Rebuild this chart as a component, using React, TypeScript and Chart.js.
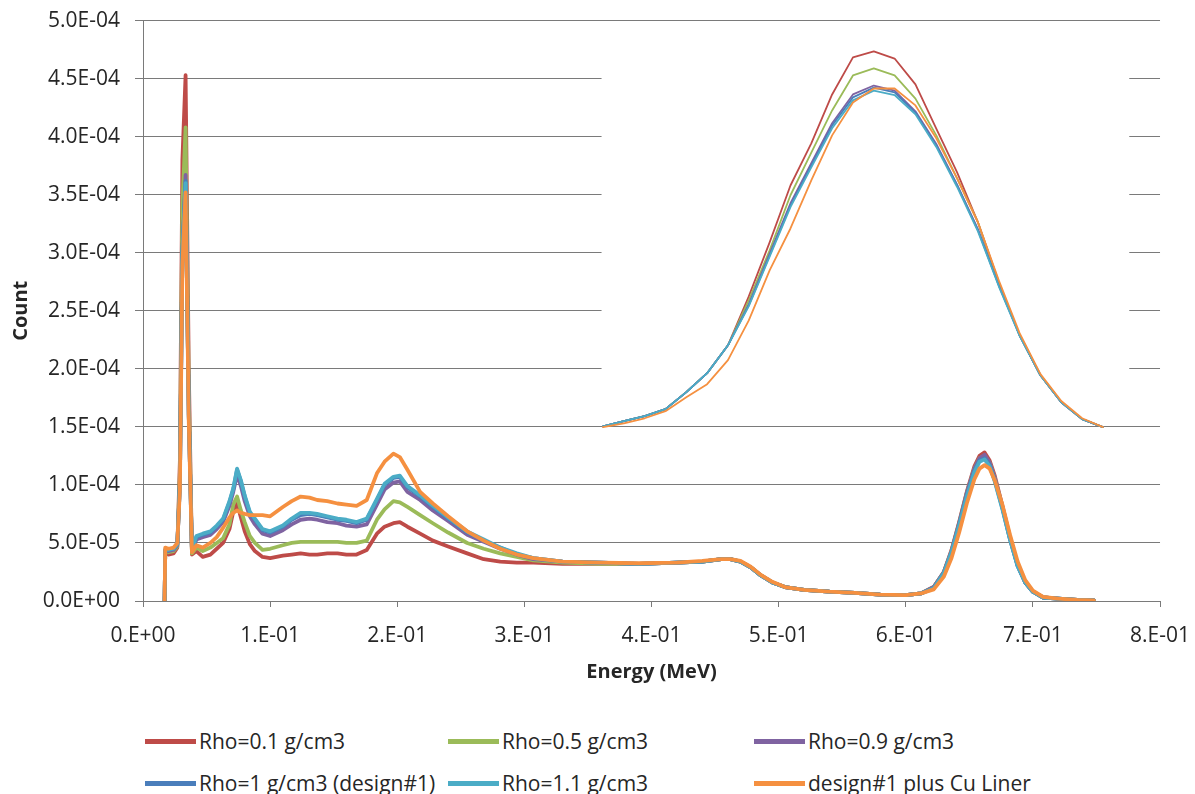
import { useEffect, useRef } from 'react';
import { Chart, registerables } from 'chart.js';

Chart.register(...registerables);

// ---------- data (counts expressed in units of 1e-5) ----------
const UNIT = 1e-5;

const seriesNames = [
  'Rho=0.1 g/cm3',
  'Rho=0.5 g/cm3',
  'Rho=0.9 g/cm3',
  'Rho=1 g/cm3 (design#1)',
  'Rho=1.1 g/cm3',
  'design#1 plus Cu Liner',
];
const seriesColors = ['#BE4B48', '#9BBB59', '#7F63A1', '#4A7EBB', '#4BACC6', '#F59040'];

const energy = [
  0.017, 0.0175, 0.020, 0.024, 0.027, 0.029, 0.031, 0.0335, 0.036, 0.0385,
  0.042, 0.047, 0.053, 0.058, 0.063, 0.068, 0.071, 0.074, 0.077, 0.080,
  0.084, 0.088, 0.094, 0.100, 0.110, 0.117, 0.124, 0.131, 0.137, 0.145,
  0.153, 0.160, 0.168, 0.176, 0.184, 0.190, 0.197, 0.202, 0.208, 0.218,
  0.228, 0.240, 0.255, 0.268, 0.281, 0.294, 0.307, 0.330, 0.360, 0.390,
  0.420, 0.440, 0.455, 0.462, 0.470, 0.478, 0.486, 0.495, 0.505, 0.520,
  0.540, 0.560, 0.580, 0.600, 0.612, 0.622, 0.630, 0.636, 0.642, 0.648,
  0.654, 0.658, 0.662, 0.666, 0.670, 0.676, 0.682, 0.688, 0.694, 0.700,
  0.708, 0.720, 0.735, 0.748,
];

const rho01 = [
  0, 4.2, 4.0, 4.1, 4.6, 12, 38, 45.3, 20, 4.0,
  4.3, 3.8, 4.0, 4.5, 5.0, 6.2, 7.7, 8.4, 7.2, 6.0,
  4.9, 4.3, 3.8, 3.7, 3.9, 4.0, 4.1, 4.0, 4.0, 4.1,
  4.1, 4.0, 4.0, 4.4, 5.8, 6.4, 6.7, 6.8, 6.4, 5.8,
  5.2, 4.7, 4.1, 3.6, 3.4, 3.3, 3.3, 3.2, 3.2, 3.2,
  3.3, 3.4, 3.6, 3.6, 3.4, 2.9, 2.2, 1.6, 1.2, 0.95,
  0.8, 0.7, 0.55, 0.5, 0.65, 1.2, 2.5, 4.4, 6.8, 9.4,
  11.6, 12.5, 12.8, 12.1, 10.8, 8.2, 5.5, 3.1, 1.6, 0.8,
  0.3, 0.2, 0.1, 0.05,
];
const rho05 = [
  0, 4.3, 4.2, 4.3, 4.7, 11, 34, 40.8, 18, 4.1,
  4.6, 4.3, 4.6, 5.0, 5.4, 6.6, 8.3, 9.0, 7.8, 6.8,
  5.6, 5.0, 4.4, 4.5, 4.8, 5.0, 5.1, 5.1, 5.1, 5.1,
  5.1, 5.0, 5.0, 5.2, 7.0, 7.9, 8.6, 8.5, 8.1, 7.4,
  6.7, 5.9, 5.0, 4.5, 4.1, 3.8, 3.5, 3.3, 3.2, 3.2,
  3.3, 3.4, 3.6, 3.6, 3.4, 2.9, 2.2, 1.6, 1.2, 0.95,
  0.8, 0.7, 0.55, 0.5, 0.65, 1.2, 2.5, 4.3, 6.7, 9.3,
  11.4, 12.3, 12.5, 11.9, 10.6, 8.1, 5.4, 3.1, 1.6, 0.8,
  0.3, 0.2, 0.1, 0.05,
];
const rho09 = [
  0, 4.4, 4.3, 4.4, 4.8, 10, 30, 36.7, 16, 4.3,
  5.3, 5.5, 5.7, 6.2, 6.8, 8.2, 9.4, 10.9, 9.9, 8.6,
  7.3, 6.6, 5.8, 5.6, 6.1, 6.6, 7.0, 7.1, 7.0, 6.8,
  6.7, 6.5, 6.4, 6.6, 8.3, 9.6, 10.2, 10.3, 9.4, 8.7,
  7.8, 6.9, 5.7, 5.1, 4.5, 4.0, 3.6, 3.4, 3.3, 3.2,
  3.3, 3.4, 3.6, 3.6, 3.4, 2.9, 2.2, 1.6, 1.2, 0.95,
  0.8, 0.7, 0.55, 0.5, 0.65, 1.2, 2.5, 4.3, 6.7, 9.3,
  11.4, 12.3, 12.6, 11.9, 10.6, 8.1, 5.4, 3.1, 1.6, 0.8,
  0.3, 0.2, 0.1, 0.05,
];
const rho10 = [
  0, 4.4, 4.4, 4.5, 4.9, 10, 30, 36.2, 16, 4.4,
  5.5, 5.7, 5.9, 6.4, 7.0, 8.5, 9.6, 11.3, 10.3, 9.0,
  7.6, 7.0, 6.1, 5.9, 6.4, 7.0, 7.4, 7.5, 7.4, 7.2,
  7.0, 6.9, 6.7, 7.0, 8.7, 10.0, 10.6, 10.7, 9.8, 9.0,
  8.1, 7.1, 5.9, 5.2, 4.6, 4.0, 3.7, 3.4, 3.3, 3.2,
  3.3, 3.4, 3.6, 3.6, 3.4, 2.9, 2.2, 1.6, 1.2, 0.95,
  0.8, 0.7, 0.55, 0.5, 0.65, 1.1, 2.4, 4.2, 6.6, 9.1,
  11.2, 12.1, 12.3, 11.7, 10.4, 8.0, 5.3, 3.0, 1.6, 0.8,
  0.3, 0.2, 0.1, 0.05,
];
const rho11 = [
  0, 4.4, 4.4, 4.5, 4.9, 10, 30, 36.0, 16, 4.4,
  5.6, 5.8, 6.0, 6.5, 7.1, 8.6, 9.7, 11.4, 10.4, 9.1,
  7.7, 7.1, 6.2, 6.0, 6.5, 7.1, 7.6, 7.6, 7.5, 7.3,
  7.1, 7.0, 6.8, 7.1, 8.8, 10.1, 10.7, 10.8, 9.9, 9.1,
  8.2, 7.2, 6.0, 5.3, 4.6, 4.1, 3.7, 3.4, 3.3, 3.2,
  3.3, 3.4, 3.6, 3.6, 3.4, 2.9, 2.2, 1.6, 1.2, 0.95,
  0.8, 0.7, 0.55, 0.5, 0.65, 1.1, 2.4, 4.2, 6.5, 9.0,
  11.1, 12.0, 12.2, 11.6, 10.3, 7.9, 5.3, 3.0, 1.6, 0.8,
  0.3, 0.2, 0.1, 0.05,
];
const cuLiner = [
  0, 4.6, 4.5, 4.6, 5.0, 9.5, 29, 35.2, 15.5, 4.2,
  4.8, 4.6, 5.0, 5.5, 6.3, 7.2, 7.6, 7.8, 7.6, 7.5,
  7.4, 7.4, 7.4, 7.3, 8.1, 8.6, 9.0, 8.9, 8.7, 8.6,
  8.4, 8.3, 8.2, 8.7, 11.0, 12.0, 12.7, 12.4, 11.3, 9.4,
  8.4, 7.3, 6.0, 5.2, 4.5, 4.0, 3.7, 3.4, 3.3, 3.25,
  3.3, 3.45, 3.6, 3.6, 3.45, 2.95, 2.25, 1.65, 1.2, 0.95,
  0.8, 0.7, 0.55, 0.5, 0.65, 1.0, 2.1, 3.7, 5.9, 8.4,
  10.5, 11.4, 11.7, 11.4, 10.4, 8.3, 5.7, 3.4, 1.8, 0.9,
  0.35, 0.2, 0.1, 0.05,
];

// inset: zoom on the full-energy peak
const insetEnergy = [
  0.600, 0.605, 0.610, 0.615, 0.620, 0.625, 0.630, 0.635, 0.640, 0.645,
  0.650, 0.655, 0.660, 0.665, 0.670, 0.675, 0.680, 0.685, 0.690, 0.695,
  0.700, 0.705, 0.710, 0.715, 0.720,
];
const insetRho01 = [
  0.03, 0.2, 0.37, 0.61, 1.18, 1.82, 2.76, 4.41, 6.23, 8.15,
  9.57, 11.22, 12.47, 12.67, 12.43, 11.56, 10.07, 8.59, 6.91, 4.89,
  3.10, 1.75, 0.84, 0.27, 0,
];
const insetRho05 = [
  0.03, 0.2, 0.37, 0.61, 1.18, 1.82, 2.76, 4.28, 5.96, 7.82,
  9.26, 10.68, 11.86, 12.10, 11.86, 11.08, 9.84, 8.39, 6.91, 4.85,
  3.10, 1.75, 0.84, 0.27, 0,
];
const insetRho09 = [
  0.03, 0.2, 0.37, 0.61, 1.18, 1.82, 2.76, 4.15, 5.85, 7.55,
  8.90, 10.25, 11.22, 11.52, 11.35, 10.65, 9.55, 8.18, 6.68, 4.80,
  3.10, 1.75, 0.84, 0.27, 0,
];
const insetRho10 = [
  0.03, 0.2, 0.37, 0.61, 1.18, 1.82, 2.76, 4.11, 5.79, 7.48,
  8.83, 10.17, 11.12, 11.45, 11.29, 10.61, 9.50, 8.15, 6.64, 4.78,
  3.10, 1.75, 0.84, 0.27, 0,
];
const insetRho11 = [
  0.03, 0.2, 0.37, 0.61, 1.18, 1.82, 2.76, 4.08, 5.75, 7.42,
  8.76, 10.08, 11.02, 11.35, 11.20, 10.55, 9.45, 8.10, 6.60, 4.75,
  3.08, 1.74, 0.84, 0.27, 0,
];
const insetCuLiner = [
  0, 0.13, 0.30, 0.54, 1.01, 1.45, 2.26, 3.60, 5.29, 6.70,
  8.32, 9.84, 10.95, 11.42, 11.42, 10.85, 9.74, 8.39, 6.91, 4.95,
  3.17, 1.79, 0.88, 0.30, 0,
];

const xTickLabels = ['0.E+00', '1.E-01', '2.E-01', '3.E-01', '4.E-01', '5.E-01', '6.E-01', '7.E-01', '8.E-01'];
const yTickLabels = [
  '0.0E+00', '5.0E-05', '1.0E-04', '1.5E-04', '2.0E-04', '2.5E-04',
  '3.0E-04', '3.5E-04', '4.0E-04', '4.5E-04', '5.0E-04',
];

const mainSeries = [rho01, rho05, rho09, rho10, rho11, cuLiner];
const insetSeries = [insetRho01, insetRho05, insetRho09, insetRho10, insetRho11, insetCuLiner];

// ---------- layout / style ----------
const FONT = "'Open Sans', 'Liberation Sans', sans-serif";
const TEXT = '#262626';
const GRID = '#7a7a7a';
const W = 1195;
const CANVAS_W = 1206;
const CANVAS_H = 707;
const CANVAS_TOP = -7;

const insetBackground = {
  id: 'insetBackground',
  beforeDatasetsDraw(chart: any) {
    const { ctx, scales } = chart;
    const x = scales.x;
    const y = scales.y;
    const left = x.getPixelForValue(0.3607);
    const right = x.getPixelForValue(0.7758);
    const top = y.getPixelForValue(4.9e-4);
    const bottom = y.getPixelForValue(1.53e-4);
    ctx.save();
    ctx.fillStyle = '#ffffff';
    ctx.fillRect(left, top, right - left, bottom - top);
    ctx.restore();
  },
};

const legendCols = [145, 448, 754];
const legendRows = [741, 783];

export default function App() {
  const canvasRef = useRef<HTMLCanvasElement | null>(null);

  useEffect(() => {
    if (!canvasRef.current) return;
    const datasets: any[] = [];
    mainSeries.forEach((vals, i) => {
      datasets.push({
        label: seriesNames[i],
        data: energy.map((e, k) => ({ x: e, y: vals[k] * UNIT })),
        borderColor: seriesColors[i],
        backgroundColor: seriesColors[i],
        borderWidth: 3.8,
        pointRadius: 0,
        tension: 0,
        order: 20 - i,
        xAxisID: 'x',
        yAxisID: 'y',
      });
    });
    insetSeries.forEach((vals, i) => {
      datasets.push({
        label: seriesNames[i] + ' (inset)',
        data: insetEnergy.map((e, k) => ({ x: e, y: vals[k] * UNIT })),
        borderColor: seriesColors[i],
        backgroundColor: seriesColors[i],
        borderWidth: 1.8,
        pointRadius: 0,
        tension: 0,
        order: 10 - i,
        xAxisID: 'x2',
        yAxisID: 'y2',
      });
    });

    const chart = new Chart(canvasRef.current, {
      type: 'line',
      data: { datasets },
      plugins: [insetBackground],
      options: {
        animation: false,
        responsive: false,
        devicePixelRatio: 1,
        layout: { padding: { left: 0, top: 20, right: 35, bottom: 0 } },
        plugins: {
          legend: { display: false },
          tooltip: { enabled: false },
        },
        elements: { line: { borderJoinStyle: 'round', borderCapStyle: 'round' } },
        scales: {
          x: {
            type: 'linear',
            min: 0,
            max: 0.8,
            afterFit: (s: any) => {
              s.height = CANVAS_H + CANVAS_TOP - 601;
            },
            ticks: {
              stepSize: 0.1,
              padding: 16,
              autoSkip: false,
              maxRotation: 0,
              color: TEXT,
              font: { family: FONT, size: 21 },
              callback: (_v: any, i: number) => xTickLabels[i],
            },
            grid: { drawOnChartArea: false, drawTicks: true, tickLength: 6, color: GRID, lineWidth: 1 },
            border: { display: true, color: GRID, width: 1 },
            title: {
              display: true,
              text: 'Energy (MeV)',
              color: TEXT,
              font: { family: FONT, size: 20, weight: 'bold' },
              padding: { top: 0, bottom: 16 },
            },
          },
          y: {
            type: 'linear',
            min: 0,
            max: 5e-4,
            afterFit: (s: any) => {
              s.width = 143;
            },
            ticks: {
              stepSize: 5e-5,
              padding: 15,
              color: TEXT,
              font: { family: FONT, size: 21 },
              callback: (_v: any, i: number) => yTickLabels[i],
            },
            grid: { drawOnChartArea: true, drawTicks: true, tickLength: 8, color: GRID, lineWidth: 1 },
            border: { display: true, color: GRID, width: 1 },
            title: {
              display: true,
              text: 'Count',
              color: TEXT,
              font: { family: FONT, size: 20, weight: 'bold' },
              padding: { top: 9, bottom: 0 },
            },
          },
          x2: { type: 'linear', display: false, min: 0.4896, max: 0.7337 },
          y2: { type: 'linear', display: false, position: 'left', min: -5.862e-5, max: 1.371e-4 },
        },
      } as any,
    });
    return () => chart.destroy();
  }, []);

  return (
    <div style={{ position: 'fixed', left: 0, top: 0, width: W, height: 794, background: '#fff', overflow: 'hidden' }}>
      <canvas
        ref={canvasRef}
        width={CANVAS_W}
        height={CANVAS_H}
        style={{ position: 'absolute', left: 0, top: CANVAS_TOP, width: CANVAS_W, height: CANVAS_H }}
      />
      {seriesNames.map((name, i) => (
        <div
          key={name}
          style={{
            position: 'absolute',
            left: legendCols[i % 3],
            top: legendRows[Math.floor(i / 3)] - 15,
            height: 30,
            display: 'flex',
            alignItems: 'center',
            whiteSpace: 'nowrap',
            fontFamily: FONT,
            fontSize: 21,
            color: TEXT,
          }}
        >
          <span style={{ display: 'inline-block', width: 51, height: 5, background: seriesColors[i], marginRight: 3 }} />
          {name}
        </div>
      ))}
    </div>
  );
}
